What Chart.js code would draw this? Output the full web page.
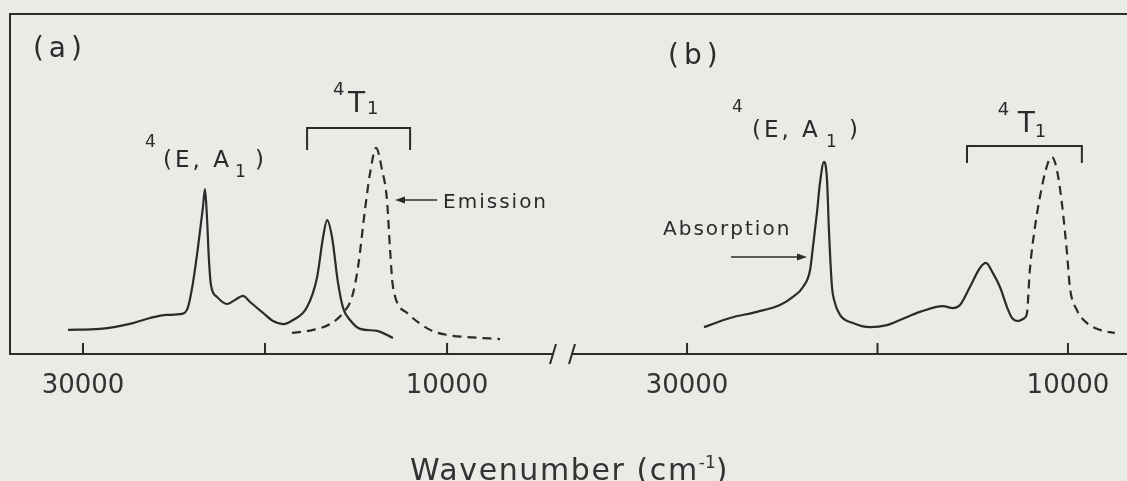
<!DOCTYPE html>
<html>
<head>
<meta charset="utf-8">
<script src="https://cdn.jsdelivr.net/npm/chart.js@4.4.1/dist/chart.umd.min.js"></script>
<style>
  html, body { margin: 0; background: #eaeae7; overflow: hidden; }
  #wrap { position: relative; width: 1127px; height: 481px; background: #eaeae7; overflow: hidden; }
  #wrap canvas { position: absolute; top: 0; }
  #chartA { left: 0; }
  #chartB { left: 560px; }
  #xtitle {
    position: absolute; left: 410px; top: 447px;
    font: 30px "DejaVu Sans", sans-serif; line-height: 30px; letter-spacing: 1.6px;
    color: #333; white-space: nowrap;
  }
  #xtitle sup { font-size: 17px; vertical-align: 12px; letter-spacing: 0; }
</style>
</head>
<body>
<div id="wrap">
  <canvas id="chartA" width="560" height="481"></canvas>
  <canvas id="chartB" width="567" height="481"></canvas>
  <div id="xtitle">Wavenumber (cm<sup>-1</sup>)</div>
</div>
<script>
// axis ticks (cm-1), only the outer two carry a number
const tickValues = [30000, 20000, 10000];
const tickLabels = ['30000', '', '10000'];

// (a) absorption, solid trace
const wnAbsA = [30820, 29070, 27250, 26320, 25380, 24560, 24230, 23960, 23680, 23410, 23300, 23190,
  23080, 22970, 22640, 22090, 21650, 21210, 20820, 20110, 19560, 19010, 18460, 17690, 17140, 16810,
  16590, 16320, 15990, 15710, 15330, 14780, 13850, 12970];
const absA = [7.1, 7.4, 9.1, 10.6, 11.5, 11.8, 13.8, 20.9, 31.5, 43.2, 48.5, 40.3,
  27.6, 20.3, 16.8, 14.7, 15.9, 17.1, 15.3, 12.1, 9.7, 8.8, 10.0, 13.8, 22.6, 34.4,
  39.4, 34.4, 20.9, 13.5, 10.0, 7.4, 6.8, 4.7];

// (a) emission, dashed trace
const wnEmA = [18520, 17360, 16430, 15710, 15220, 14890, 14510, 14230, 13900, 13570, 13300, 13130,
  12970, 12200, 10930, 10000, 8900, 7090];
const emA = [6.2, 7.1, 8.8, 12.1, 16.8, 25.6, 42.4, 53.2, 60.6, 54.1, 45.3, 30.6,
  19.7, 12.1, 7.1, 5.6, 5.0, 4.4];

// (b) absorption, solid trace
const wnAbsB = [29110, 27740, 26330, 25120, 24440, 23910, 23540, 23390, 23180, 23020, 22810, 22650,
  22550, 22390, 22280, 21970, 21290, 20390, 19500, 18820, 17770, 16560, 16040, 15670, 15150, 14620,
  14310, 13940, 13570, 13200, 12940, 12630, 12260];
const absB = [7.9, 10.6, 12.4, 14.4, 16.8, 19.7, 24.7, 31.5, 41.5, 50.3, 56.5, 51.2,
  36.5, 19.7, 15.9, 11.5, 9.1, 7.9, 8.5, 10.0, 12.4, 14.1, 13.5, 14.4, 19.7, 25.3,
  26.8, 23.8, 19.7, 13.8, 10.6, 9.7, 10.6];

// (b) emission, dashed trace
const wnEmB = [12260, 12150, 12000, 11730, 11370, 11050, 10840, 10580, 10320, 10050, 9900, 9530,
  9000, 8320, 7540];
const emB = [10.6, 12.1, 24.7, 37.4, 49.1, 56.2, 57.9, 54.1, 44.4, 29.7, 19.7, 12.9,
  9.1, 7.1, 6.2];

const ink = '#2b2b2b';
const FONT = '"DejaVu Sans", sans-serif';

function toPoints(xs, ys) {
  return xs.map((x, i) => ({ x: x, y: ys[i] }));
}

function arrow(ctx, x0, y0, x1, y1) {
  const ang = Math.atan2(y1 - y0, x1 - x0);
  ctx.beginPath();
  ctx.moveTo(x0, y0);
  ctx.lineTo(x1 - 6 * Math.cos(ang), y1 - 6 * Math.sin(ang));
  ctx.stroke();
  ctx.beginPath();
  ctx.moveTo(x1, y1);
  ctx.lineTo(x1 - 10 * Math.cos(ang) + 3.5 * Math.sin(ang), y1 - 10 * Math.sin(ang) - 3.5 * Math.cos(ang));
  ctx.lineTo(x1 - 10 * Math.cos(ang) - 3.5 * Math.sin(ang), y1 - 10 * Math.sin(ang) + 3.5 * Math.cos(ang));
  ctx.closePath();
  ctx.fill();
}

// frame, inward ticks, axis break and the labels/brackets/arrows of a panel
const decor = {
  id: 'decor',
  afterDraw(chart, args, opts) {
    const { ctx, chartArea: a, scales: { x, y } } = chart;
    ctx.save();
    ctx.strokeStyle = ink;
    ctx.fillStyle = ink;
    ctx.lineWidth = 2;
    ctx.lineCap = 'butt';

    ctx.beginPath();
    ctx.moveTo(opts.frameLeft ? a.left - 1 : 0, a.top);
    ctx.lineTo(chart.width, a.top);
    if (opts.frameLeft) {
      ctx.moveTo(a.left, a.top);
      ctx.lineTo(a.left, a.bottom);
    }
    tickValues.forEach(v => {
      const px = x.getPixelForValue(v);
      ctx.moveTo(px, a.bottom);
      ctx.lineTo(px, a.bottom - 11);
    });
    const bx = opts.breakRight ? a.right : a.left;
    ctx.moveTo(bx - 3, a.bottom + 10);
    ctx.lineTo(bx + 3, a.bottom - 10);
    // the second panel's axis runs on to the page edge
    if (opts.extendAxis) {
      ctx.moveTo(a.right, a.bottom);
      ctx.lineTo(chart.width, a.bottom);
    }
    ctx.stroke();

    opts.brackets.forEach(b => {
      const x0 = x.getPixelForValue(b.from), x1 = x.getPixelForValue(b.to);
      const yt = y.getPixelForValue(b.top), yb = y.getPixelForValue(b.foot);
      ctx.beginPath();
      ctx.moveTo(x0, yb);
      ctx.lineTo(x0, yt);
      ctx.lineTo(x1, yt);
      ctx.lineTo(x1, yb);
      ctx.stroke();
    });

    ctx.lineWidth = 1.5;
    opts.arrows.forEach(r => {
      const yy = y.getPixelForValue(r.level);
      arrow(ctx, x.getPixelForValue(r.from), yy, x.getPixelForValue(r.to), yy);
    });

    ctx.textBaseline = 'alphabetic';
    ctx.textAlign = 'left';
    opts.labels.forEach(l => {
      const px = x.getPixelForValue(l.wn), py = y.getPixelForValue(l.level);
      l.parts.forEach(p => {
        ctx.font = p.size + 'px ' + FONT;
        ctx.letterSpacing = (p.spacing || 0) + 'px';
        ctx.fillText(p.text, px + (p.dx || 0), py + (p.dy || 0));
      });
    });
    ctx.letterSpacing = '0px';
    ctx.restore();
  }
};

function makePanel(id, cfg) {
  return new Chart(document.getElementById(id), {
    type: 'line',
    data: {
      datasets: [
        { data: toPoints(cfg.wnAbs, cfg.abs), borderColor: ink, borderWidth: 2.2, pointRadius: 0,
          cubicInterpolationMode: 'monotone' },
        { data: toPoints(cfg.wnEm, cfg.em), borderColor: ink, borderWidth: 2.2, pointRadius: 0,
          borderDash: [9, 6], cubicInterpolationMode: 'monotone' }
      ]
    },
    options: {
      responsive: false,
      animation: false,
      layout: { padding: cfg.padding },
      plugins: { legend: { display: false }, tooltip: { enabled: false }, decor: cfg.decor },
      scales: {
        x: {
          type: 'linear', reverse: true, min: cfg.min, max: cfg.max,
          afterBuildTicks: s => { s.ticks = tickValues.map(v => ({ value: v })); },
          afterFit: s => { s.height = 127; },
          grid: { display: false, drawTicks: false },
          border: { display: true, color: ink, width: 2 },
          ticks: {
            autoSkip: false, maxRotation: 0, padding: 17, color: '#333',
            font: { family: FONT, size: 26 },
            callback: v => tickLabels[tickValues.indexOf(v)]
          }
        },
        y: { display: false, min: 0, max: 100 }
      }
    },
    plugins: [decor]
  });
}

makePanel('chartA', {
  wnAbs: wnAbsA, abs: absA, wnEm: wnEmA, em: emA,
  min: 4180, max: 34010,
  padding: { left: 10, right: 7, top: 14, bottom: 0 },
  decor: {
    frameLeft: true, breakRight: true, extendAxis: false,
    brackets: [{ from: 17690, to: 12030, top: 66.5, foot: 60.0 }],
    arrows: [{ from: 10550, to: 12860, level: 45.3 }],
    labels: [
      { wn: 32750, level: 87.4, parts: [{ text: '(a)', size: 28, spacing: 5 }] },
      { wn: 25600, level: 55.0, parts: [
        { text: '4', size: 17, dx: -18, dy: -20 },
        { text: '(E, A', size: 23, spacing: 3 },
        { text: '1', size: 17, dx: 72, dy: 10 },
        { text: ')', size: 23, dx: 92 }
      ] },
      { wn: 15440, level: 71.2, parts: [
        { text: '4', size: 18, dx: -15, dy: -17 },
        { text: 'T', size: 28 },
        { text: '1', size: 18, dx: 19, dy: 2 }
      ] },
      { wn: 10220, level: 43.0, parts: [{ text: 'Emission', size: 20, spacing: 2 }] }
    ]
  }
});

makePanel('chartB', {
  wnAbs: wnAbsB, abs: absB, wnEm: wnEmB, em: emB,
  min: 7110, max: 36040,
  padding: { left: 12, right: 4, top: 14, bottom: 0 },
  decor: {
    frameLeft: false, breakRight: false, extendAxis: true,
    brackets: [{ from: 15300, to: 9270, top: 61.2, foot: 56.2 }],
    arrows: [{ from: 27690, to: 23700, level: 28.5 }],
    labels: [
      { wn: 31000, level: 85.3, parts: [{ text: '(b)', size: 28, spacing: 5 }] },
      { wn: 26590, level: 63.8, parts: [
        { text: '4', size: 17, dx: -20, dy: -25 },
        { text: '(E, A', size: 23, spacing: 3 },
        { text: '1', size: 17, dx: 74, dy: 10 },
        { text: ')', size: 23, dx: 97 }
      ] },
      { wn: 12630, level: 65.3, parts: [
        { text: '4', size: 18, dx: -20, dy: -17 },
        { text: 'T', size: 28 },
        { text: '1', size: 18, dx: 17, dy: 5 }
      ] },
      { wn: 31260, level: 35.0, parts: [{ text: 'Absorption', size: 20, spacing: 2 }] }
    ]
  }
});
</script>
</body>
</html>
